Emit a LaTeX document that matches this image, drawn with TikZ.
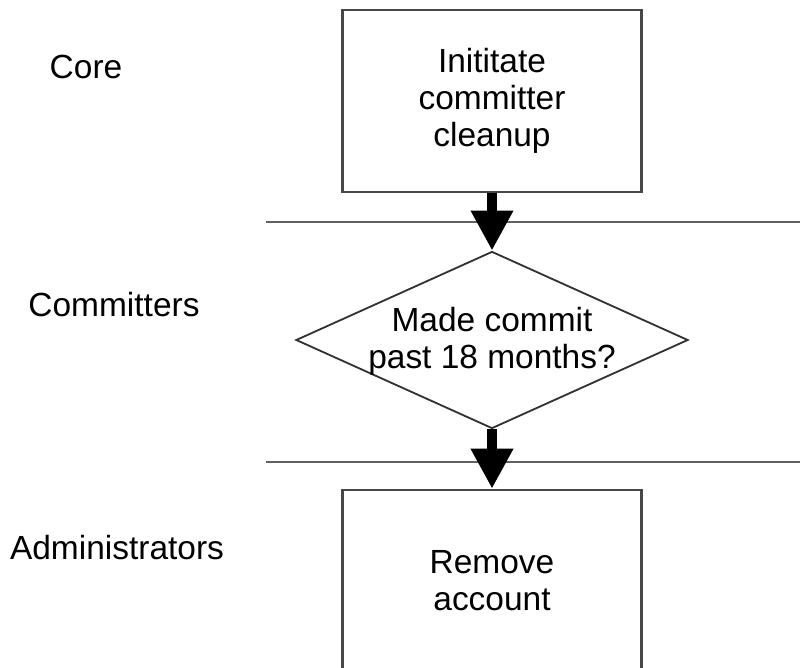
\documentclass[tikz,border=0pt]{standalone}
\usepackage{fontspec}
\setmainfont{Liberation Sans}
\usetikzlibrary{shapes.geometric,arrows.meta}

\begin{document}
\begin{tikzpicture}[x=0.025cm, y=-0.025cm,
            every node/.style={font=\fontsize{23.8}{26.5}\selectfont, align=center},
            task/.style={draw=black!72, line width=1.8pt, fill=white, minimum width=7.475cm, minimum height=4.55cm, inner sep=0pt},
            decision/.style={diamond, draw=black!80, line width=1.3pt, minimum width=9.8cm, minimum height=4.425cm, inner sep=0pt},
            lane/.style={draw=black!62, line width=1.8pt},
            flow/.style={line width=7pt, -{Triangle[width=1cm, length=1cm]}}]
            \useasboundingbox (0,0) rectangle (800,668);
            \clip (0,0) rectangle (800,668);
            \draw[lane] (266,222) -- (800,222);
            \draw[lane] (266,462) -- (800,462);
            \foreach \x/\y/\t in {86/67/Core, 114/305/Committers, 117/548/Administrators}
                \node (\t) at (\x,\y) {\t};
            \node[task] (init) at (492,101) {Inititate\\committer\\cleanup};
            \node[decision] (chk) at (492,340) {};
            \node (chktext) at (492,341) {Made commit\\past 18 months?};
            \node[task] (remove) at (492,581) {Remove\\account};
            \draw[flow] (init.south) -- (chk.north);
            \draw[flow] (chk.south) -- (remove.north);
        \end{tikzpicture}
\end{document}
